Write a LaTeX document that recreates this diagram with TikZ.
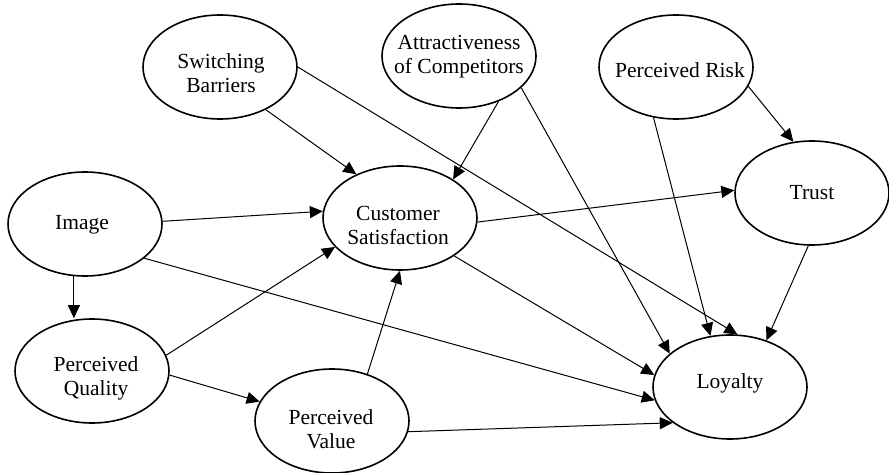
\documentclass[tikz,border=0pt]{standalone}
\usepackage{fontspec}
\setmainfont{Liberation Serif}
\usetikzlibrary{shapes.geometric,arrows.meta}
\begin{document}
\begin{tikzpicture}[x=1pt,y=-1pt,
  construct/.style={draw, ellipse, line width=1.6pt, minimum width=154pt, minimum height=104pt, inner sep=0pt},
  caption/.style={align=center, font=\fontsize{21.5}{24}\selectfont, inner sep=0pt},
  link/.style={-{Triangle[length=13pt,width=12pt]}, line width=1pt}]
\useasboundingbox (0,0) rectangle (889,473);

% constructs
\node[construct] (sb)    at (220,67)  {};
\node[construct] (attr)  at (459,56)  {};
\node[construct] (pr)    at (676,67)  {};
\node[construct] (trust) at (812,193) {};
\node[construct] (cs)    at (400,218) {};
\node[construct] (img)   at (85,224)  {};
\node[construct] (pq)    at (92,371)  {};
\node[construct] (pv)    at (332,421) {};
\node[construct] (loy)   at (730,387) {};

% construct names
\node[caption] (sbt)    at (221,73)  {Switching\\Barriers};
\node[caption] (attrt)  at (459,57)  {Attractiveness\\of Competitors};
\node[caption] (prt)    at (680,70)  {Perceived Risk};
\node[caption] (trustt) at (812,193) {Trust};
\node[caption] (cst)    at (398,225) {Customer\\Satisfaction};
\node[caption] (imgt)   at (82,225)  {Image};
\node[caption] (pqt)    at (96,378)  {Perceived\\Quality};
\node[caption] (pvt)    at (331,429) {Perceived\\Value};
\node[caption] (loyt)   at (730,383) {Loyalty};

% paths
\draw[link] (sb.-43)   -- (cs.135);
\draw[link] (sb.0)     -- (loy.82);
\draw[link] (attr.-49) -- (cs.36);
\draw[link] (attr.-27) -- (loy.151);
\draw[link] (pr.-15)   -- (trust.110);
\draw[link] (pr.-114)  -- (loy.111);
\draw[link] (img.2)    -- (cs.175);
\draw[link] (img.-102) -- (img.-102 |- pq.north);
\draw[link] (img.-30)  -- (loy.-170);
\draw[link] (cs.-3)    -- (trust.178);
\draw[link] (cs.-35)   -- (loy.171);
\draw[link] (trust.-94) -- (loy.52);
\draw[link] (pq.12)    -- (cs.-156);
\draw[link] (pq.-3)    -- (pv.165);
\draw[link] (pv.53)    -- (cs.-90);
\draw[link] (pv.-8)    -- (loy.-148);
\end{tikzpicture}
\end{document}
